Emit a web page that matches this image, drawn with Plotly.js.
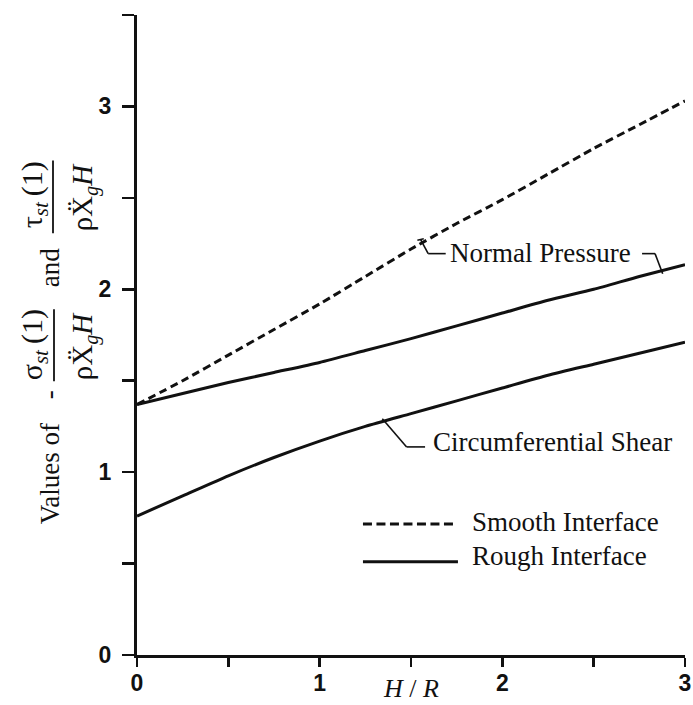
<!DOCTYPE html>
<html>
<head>
<meta charset="utf-8">
<script src="https://cdn.plot.ly/plotly-3.0.1.min.js"></script>
<style>html,body{margin:0;padding:0;background:#fff;}</style>
</head>
<body>
<div id="chart" style="width:693px;height:705px;"></div>
<script>
// ---- data ----
const hOverR = [0, 0.25, 0.5, 0.75, 1, 1.25, 1.5, 1.75, 2, 2.25, 2.5, 2.75, 3];
const smoothNormalPressure = [1.37, 1.50, 1.64, 1.78, 1.92, 2.07, 2.22, 2.36, 2.49, 2.63, 2.77, 2.90, 3.03];
const roughNormalPressure  = [1.37, 1.43, 1.49, 1.545, 1.60, 1.665, 1.73, 1.80, 1.87, 1.94, 2.00, 2.07, 2.135];
const roughCircumShear     = [0.76, 0.87, 0.98, 1.08, 1.17, 1.25, 1.32, 1.39, 1.46, 1.53, 1.59, 1.65, 1.71];

const xTickVals = [0, 1, 2, 3];
const xTickText = ['0', '1', '2', '3'];
const yTickVals = [0, 1, 2, 3];
const yTickText = ['0', '1', '2', '3'];
const minorStep = 0.5;

const seriesNames = ['Smooth Interface', 'Rough Interface'];
const curveLabels = ['Normal Pressure', 'Circumferential Shear'];

// ---- styling ----
const INK = '#111111';
const SERIF = 'Liberation Serif, Times New Roman, serif';
const SANS = 'Liberation Sans, Arial, sans-serif';

const traces = [
  {x: hOverR, y: smoothNormalPressure, mode: 'lines', name: seriesNames[0],
   line: {color: INK, width: 3, dash: '8px,4.5px', shape: 'spline', smoothing: 0.6}},
  {x: hOverR, y: roughNormalPressure, mode: 'lines', name: seriesNames[1],
   line: {color: INK, width: 3, shape: 'spline', smoothing: 0.6}},
  {x: hOverR, y: roughCircumShear, mode: 'lines', name: seriesNames[1],
   line: {color: INK, width: 3, shape: 'spline', smoothing: 0.6}, showlegend: false}
];

// helpers for placing the rotated y-axis title (pixel -> paper)
const L = 137, T = 14.5, W = 548, H = 640.5;
const px = v => (v - L) / W;
const py = v => (T + H - v) / H;

function rot(text, x, y, size) {
  return {text: text, xref: 'paper', yref: 'paper', x: px(x), y: py(y),
    showarrow: false, textangle: -90, xanchor: 'center', yanchor: 'middle',
    font: {family: SERIF, size: size, color: INK}};
}
const SUB = t => '<sub><i>' + t + '</i></sub>';
const numSigma = 'σ' + SUB('st') + '\u2009(1)';
const numTau   = 'τ' + SUB('st') + '\u2009(1)';
const denom    = 'ρX\u0308' + SUB('g') + '<i>H</i>';

const annotations = [
  // y-axis title pieces
  rot('Values of', 50, 474, 27),
  rot('-', 49, 395, 27),
  rot(numSigma, 34, 345, 30),
  rot(denom, 84, 346, 29),
  rot('and', 50, 268, 27),
  rot(numTau, 34, 195, 30),
  rot(denom, 84, 197, 29),
  // x-axis title
  {text: '<i>H</i> / <i>R</i>', xref: 'paper', yref: 'paper', x: 0.5, y: py(689),
   showarrow: false, xanchor: 'center', yanchor: 'middle',
   font: {family: SERIF, size: 26, color: INK}},
  // curve labels
  {text: curveLabels[0], xref: 'x', yref: 'y', x: 1.70, y: 2.20, showarrow: false,
   xanchor: 'left', yanchor: 'middle', font: {family: SERIF, size: 27, color: INK}},
  {text: curveLabels[1], xref: 'x', yref: 'y', x: 1.61, y: 1.165, showarrow: false,
   xanchor: 'left', yanchor: 'middle', font: {family: SERIF, size: 27, color: INK}},
  // legend texts
  {text: seriesNames[0], xref: 'x', yref: 'y', x: 1.825, y: 0.73, showarrow: false,
   xanchor: 'left', yanchor: 'middle', font: {family: SERIF, size: 27, color: INK}},
  {text: seriesNames[1], xref: 'x', yref: 'y', x: 1.825, y: 0.54, showarrow: false,
   xanchor: 'left', yanchor: 'middle', font: {family: SERIF, size: 27, color: INK}}
];

function seg(x0, y0, x1, y1, w, dash) {
  return {type: 'line', xref: 'x', yref: 'y', x0: x0, y0: y0, x1: x1, y1: y1,
          line: {color: INK, width: w || 1.6, dash: dash || 'solid'}};
}
function pseg(x0, y0, x1, y1, w) {
  return {type: 'line', xref: 'paper', yref: 'paper', x0: px(x0), y0: py(y0), x1: px(x1), y1: py(y1),
          line: {color: INK, width: w || 1.6}};
}

const shapes = [
  // fraction bars in the y title
  pseg(54, 309, 54, 381, 1.8),
  pseg(53, 160, 53, 233, 1.8),
  // leader: Normal Pressure -> smooth (dashed) curve
  seg(1.535, 2.268, 1.570, 2.276),
  seg(1.553, 2.272, 1.594, 2.195),
  seg(1.594, 2.195, 1.690, 2.195),
  // leader: Normal Pressure -> rough (solid) curve
  seg(2.765, 2.195, 2.836, 2.195),
  seg(2.836, 2.195, 2.878, 2.085),
  // leader: Circumferential Shear
  seg(1.343, 1.292, 1.476, 1.138),
  seg(1.476, 1.138, 1.577, 1.138),
  // legend samples
  seg(1.237, 0.716, 1.741, 0.716, 3, '9px,4.5px'),
  seg(1.237, 0.510, 1.757, 0.510, 3)
];

const layout = {
  width: 693, height: 705,
  margin: {l: L, r: 8, t: T, b: 50, pad: 0},
  paper_bgcolor: '#ffffff', plot_bgcolor: '#ffffff',
  showlegend: false,
  xaxis: {range: [0, 3], tickmode: 'array', tickvals: xTickVals, ticktext: xTickText,
          showline: true, linewidth: 3, linecolor: INK, mirror: false,
          ticks: 'outside', ticklen: 9, tickwidth: 2.5, tickcolor: INK,
          ticklabelstandoff: -4,
          minor: {dtick: minorStep, tick0: 0, ticks: 'outside', ticklen: 9, tickwidth: 2.5, tickcolor: INK, showgrid: false},
          showgrid: false, zeroline: false, fixedrange: true,
          tickfont: {family: SANS, size: 23, color: INK, weight: 'bold'}},
  yaxis: {range: [0, 3.5], tickmode: 'array', tickvals: yTickVals, ticktext: yTickText,
          showline: true, linewidth: 3, linecolor: INK, mirror: false,
          ticks: 'outside', ticklen: 12, tickwidth: 2.5, tickcolor: INK,
          ticklabelstandoff: 6,
          minor: {dtick: minorStep, tick0: 0, ticks: 'outside', ticklen: 12, tickwidth: 2.5, tickcolor: INK, showgrid: false},
          showgrid: false, zeroline: false, fixedrange: true,
          tickfont: {family: SANS, size: 23, color: INK, weight: 'bold'}},
  annotations: annotations,
  shapes: shapes
};

Plotly.newPlot('chart', traces, layout, {staticPlot: true, displayModeBar: false});
</script>
</body>
</html>
